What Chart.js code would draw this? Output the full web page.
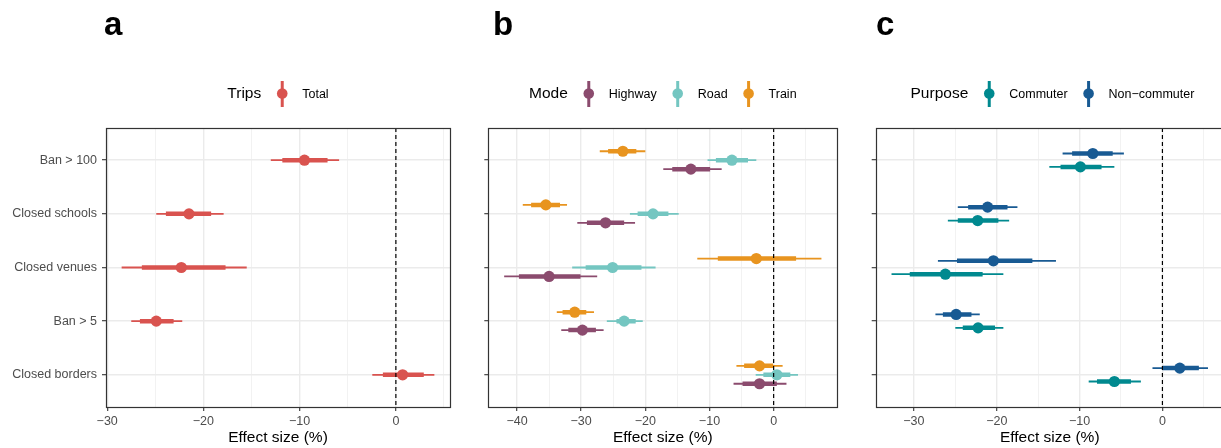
<!DOCTYPE html>
<html>
<head>
<meta charset="utf-8">
<script src="https://cdn.jsdelivr.net/npm/chart.js@4.4.0/dist/chart.umd.min.js"></script>
<style>
html,body{margin:0;padding:0;background:#fff;overflow:hidden;width:1221px;height:448px;position:relative;}
canvas{position:absolute;top:0;}
</style>
</head>
<body>
<canvas id="ca" width="462" height="448" style="left:0px"></canvas>
<canvas id="cb" width="380" height="448" style="left:470px"></canvas>
<canvas id="cc" width="390" height="448" style="left:850px"></canvas>
<script>
// ---------- DATA ----------
const categories = ['Ban > 100', 'Closed schools', 'Closed venues', 'Ban > 5', 'Closed borders'];

// Panel a: Trips
const totalEst   = [-9.5, -21.5, -22.3, -24.9, 0.7];
const totalInLo  = [-11.8, -23.9, -26.4, -26.6, -1.35];
const totalInHi  = [-7.1, -19.2, -17.7, -23.1, 2.9];
const totalOutLo = [-13.0, -24.9, -28.5, -27.5, -2.45];
const totalOutHi = [-5.9, -17.9, -15.5, -22.2, 4.0];

// Panel b: Mode
const highwayEst   = [-12.9, -26.2, -35.0, -29.8, -2.2];
const highwayInLo  = [-15.8, -29.1, -39.7, -32.0, -4.85];
const highwayInHi  = [-9.9, -23.3, -30.1, -27.7, 0.5];
const highwayOutLo = [-17.2, -30.6, -42.0, -33.1, -6.25];
const highwayOutHi = [-8.1, -21.6, -27.5, -26.5, 2.0];

const roadEst   = [-6.5, -18.8, -25.1, -23.3, 0.5];
const roadInLo  = [-9.0, -21.2, -29.3, -24.5, -1.6];
const roadInHi  = [-4.0, -16.4, -20.6, -21.5, 2.6];
const roadOutLo = [-10.3, -22.4, -31.4, -26.0, -2.8];
const roadOutHi = [-2.7, -14.8, -18.4, -20.4, 3.8];

const trainEst   = [-23.5, -35.5, -2.7, -31.0, -2.2];
const trainInLo  = [-25.8, -37.8, -8.7, -32.9, -4.6];
const trainInHi  = [-21.4, -33.3, 3.5, -29.2, -0.1];
const trainOutLo = [-27.1, -39.1, -11.9, -33.8, -5.8];
const trainOutHi = [-20.0, -32.2, 7.45, -28.0, 1.4];

// Panel c: Purpose
const commuterEst   = [-9.9, -22.3, -26.2, -22.25, -5.8];
const commuterInLo  = [-12.3, -24.7, -30.5, -24.1, -7.9];
const commuterInHi  = [-7.35, -19.8, -21.7, -20.2, -3.8];
const commuterOutLo = [-13.65, -25.9, -32.7, -25.0, -8.9];
const commuterOutHi = [-5.8, -18.5, -19.2, -19.2, -2.6];

const noncommEst   = [-8.4, -21.1, -20.4, -24.9, 2.1];
const noncommInLo  = [-10.9, -23.45, -24.8, -26.5, 0.0];
const noncommInHi  = [-6.0, -18.7, -15.7, -23.05, 4.4];
const noncommOutLo = [-12.05, -24.7, -27.1, -27.4, -1.2];
const noncommOutHi = [-4.65, -17.5, -12.85, -22.05, 5.5];

// ---------- CHART BUILDING ----------
const FONT = '"Liberation Sans", Arial, Helvetica, sans-serif';
Chart.defaults.font.family = FONT;
Chart.defaults.devicePixelRatio = 1;

function fmtTick(v) {
  if (Math.abs(v % 10) > 1e-9) return '';
  return v < 0 ? '\u2212' + Math.abs(v) : String(v);
}

const decoPlugin = {
  id: 'deco',
  afterDraw(chart, args, o) {
    const ctx = chart.ctx, a = chart.chartArea;
    ctx.save();
    // panel border
    ctx.strokeStyle = '#333333';
    ctx.lineWidth = 1.2;
    ctx.strokeRect(Math.round(a.left) + 0.5, Math.round(a.top) + 0.5,
                   Math.round(a.right - a.left), Math.round(a.bottom - a.top));
    // panel letter
    ctx.fillStyle = '#000';
    ctx.textAlign = 'left';
    ctx.textBaseline = 'alphabetic';
    ctx.font = 'bold 33px ' + FONT;
    ctx.fillText(o.letter, o.letterX - o.canvasLeft, 35);
    // legend
    const titleFont = '15.5px ' + FONT, labelFont = '12.5px ' + FONT;
    ctx.font = titleFont;
    const tw = ctx.measureText(o.title).width;
    ctx.font = labelFont;
    const lws = o.items.map(it => ctx.measureText(it.label).width);
    const total = tw + o.items.length * 41 + lws.reduce((s, w) => s + w, 0);
    let x = (a.left + a.right) / 2 + (o.shift || 0) - total / 2;
    const base = 97.5;
    ctx.font = titleFont;
    ctx.fillText(o.title, x, base);
    x += tw;
    o.items.forEach((it, i) => {
      const gx = x + 21;
      ctx.strokeStyle = it.color;
      ctx.fillStyle = it.color;
      ctx.lineWidth = 3;
      ctx.beginPath();
      ctx.moveTo(gx, 81); ctx.lineTo(gx, 107);
      ctx.stroke();
      ctx.beginPath();
      ctx.arc(gx, 93.5, 5.3, 0, Math.PI * 2);
      ctx.fill();
      ctx.fillStyle = '#000';
      ctx.font = labelFont;
      ctx.fillText(it.label, gx + 20, base);
      x = gx + 20 + lws[i];
    });
    ctx.restore();
  }
};

function segData(lo, hi, pos) {
  const d = [];
  lo.forEach((v, i) => {
    d.push({x: v, y: pos[i]}, {x: hi[i], y: pos[i]}, {x: hi[i], y: null});
  });
  return d;
}

function makePanel(id, p) {
  const n = p.series.length;
  let lo = Infinity, hi = -Infinity;
  p.series.forEach(s => { lo = Math.min(lo, ...s.outLo); hi = Math.max(hi, ...s.outHi); });
  const span = hi - lo;
  const xmin = lo - 0.05 * span, xmax = hi + 0.05 * span;
  const ymin = 0.4, ymax = categories.length + 0.6;

  const pointDs = [], innerDs = [], outerDs = [];
  p.series.forEach((s, g) => {
    const off = ((n - 1) / 2 - g) * (0.5 / n);
    const pos = categories.map((c, i) => i + 1 + off);
    pointDs.push({
      data: s.est.map((v, i) => ({x: v, y: pos[i]})),
      showLine: false, pointRadius: 5.6, pointBackgroundColor: s.color,
      pointBorderWidth: 0, pointHoverRadius: 5.6
    });
    innerDs.push({
      data: segData(s.inLo, s.inHi, pos), borderColor: s.color, borderWidth: 4.5,
      pointRadius: 0, spanGaps: false, borderCapStyle: 'butt'
    });
    outerDs.push({
      data: segData(s.outLo, s.outHi, pos), borderColor: s.color, borderWidth: 1.8,
      pointRadius: 0, spanGaps: false, borderCapStyle: 'butt'
    });
  });
  const zeroDs = {
    data: [{x: 0, y: ymin}, {x: 0, y: ymax}], borderColor: '#000', borderWidth: 1.2,
    borderDash: [4, 3], pointRadius: 0
  };
  const datasets = [zeroDs, ...pointDs.reverse(), ...innerDs.reverse(), ...outerDs.reverse()];

  return new Chart(document.getElementById(id), {
    type: 'line',
    data: {datasets},
    options: {
      responsive: false, animation: false, events: [],
      layout: {padding: {top: 128, right: p.rightPad, left: 0, bottom: 0}},
      plugins: {
        legend: {display: false}, tooltip: {enabled: false},
        deco: {letter: p.letter, letterX: p.letterX, canvasLeft: p.canvasLeft,
               title: p.legendTitle, shift: p.shift || 0,
               items: p.series.map(s => ({label: s.label, color: s.color}))}
      },
      scales: {
        x: {
          type: 'linear', min: xmin, max: xmax,
          afterBuildTicks: (sc) => {
            const t = [];
            for (let v = Math.ceil(xmin / 5) * 5; v <= xmax; v += 5) t.push({value: v});
            sc.ticks = t;
          },
          afterFit: (sc) => { sc.height = 41; },
          border: {display: false},
          grid: {
            color: (c) => (Math.abs(c.tick.value % 10) < 1e-9 ? '#EBEBEB' : '#F2F2F2'),
            lineWidth: (c) => (Math.abs(c.tick.value % 10) < 1e-9 ? 1.4 : 1),
            tickColor: (c) => (Math.abs(c.tick.value % 10) < 1e-9 ? '#333333' : 'rgba(0,0,0,0)'),
            tickLength: 4, tickWidth: 1.1
          },
          ticks: {callback: fmtTick, autoSkip: false, maxRotation: 0, padding: 3,
                  color: '#4D4D4D', font: {size: 12.5}},
          title: {display: true, text: 'Effect size (%)', color: '#000',
                  font: {size: 15.5}, padding: {top: 0, bottom: 1}}
        },
        y: {
          type: 'linear', reverse: true, min: ymin, max: ymax,
          afterBuildTicks: (sc) => { sc.ticks = categories.map((c, i) => ({value: i + 1})); },
          afterFit: (sc) => { sc.width = p.leftW; },
          border: {display: false},
          grid: {color: '#EBEBEB', lineWidth: 1.4, tickColor: '#333333', tickLength: 4, tickWidth: 1.1},
          ticks: {
            callback: (v) => (p.yLabels ? categories[Math.round(v) - 1] : ''),
            autoSkip: false, padding: 5, color: '#4D4D4D', font: {size: 12.5}
          }
        }
      }
    },
    plugins: [decoPlugin]
  });
}

makePanel('ca', {
  letter: 'a', letterX: 104, canvasLeft: 0, legendTitle: 'Trips',
  leftW: 106, rightPad: 12, yLabels: true,
  series: [
    {label: 'Total', color: '#D9534F', est: totalEst, inLo: totalInLo, inHi: totalInHi, outLo: totalOutLo, outHi: totalOutHi}
  ]
});

makePanel('cb', {
  letter: 'b', letterX: 493, canvasLeft: 470, legendTitle: 'Mode',
  leftW: 18.3, rightPad: 12.7, yLabels: false,
  series: [
    {label: 'Highway', color: '#8B4B6E', est: highwayEst, inLo: highwayInLo, inHi: highwayInHi, outLo: highwayOutLo, outHi: highwayOutHi},
    {label: 'Road', color: '#74C6C1', est: roadEst, inLo: roadInLo, inHi: roadInHi, outLo: roadOutLo, outHi: roadOutHi},
    {label: 'Train', color: '#E8941F', est: trainEst, inLo: trainInLo, inHi: trainInHi, outLo: trainOutLo, outHi: trainOutHi}
  ]
});

makePanel('cc', {
  letter: 'c', letterX: 876, canvasLeft: 850, legendTitle: 'Purpose',
  leftW: 25.7, rightPad: 16.2, yLabels: false, shift: 2.7,
  series: [
    {label: 'Commuter', color: '#00898F', est: commuterEst, inLo: commuterInLo, inHi: commuterInHi, outLo: commuterOutLo, outHi: commuterOutHi},
    {label: 'Non\u2212commuter', color: '#185A93', est: noncommEst, inLo: noncommInLo, inHi: noncommInHi, outLo: noncommOutLo, outHi: noncommOutHi}
  ]
});
</script>
</body>
</html>
